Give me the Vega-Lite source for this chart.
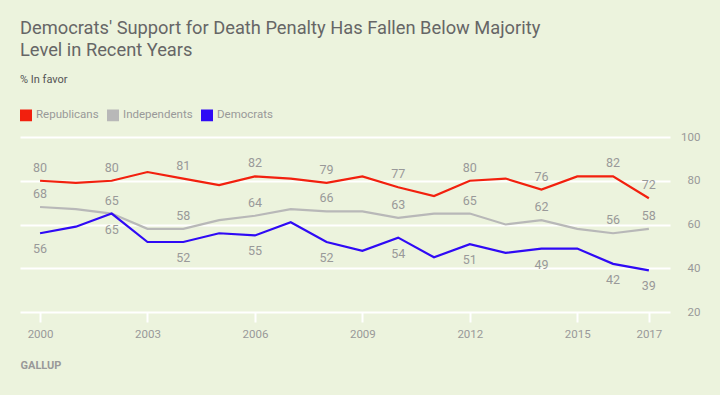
{
  "$schema": "https://vega.github.io/schema/vega-lite/v6.json",
  "width": 650,
  "height": 175,
  "autosize": {"type": "none"},
  "padding": {"left": 20, "top": 137, "right": 50, "bottom": 83},
  "background": "#ecf3dd",
  "config": {
    "view": {"stroke": null},
    "font": "Roboto",
    "legend": {"labelFont": "Roboto"},
    "axis": {"labelFont": "Roboto", "titleFont": "Roboto"}
  },
  "title": {
    "text": ["Democrats' Support for Death Penalty Has Fallen Below Majority", "Level in Recent Years"],
    "subtitle": "% In favor",
    "anchor": "start",
    "frame": "group",
    "font": "Roboto",
    "subtitleFont": "Roboto",
    "fontSize": 18.3,
    "fontWeight": "normal",
    "color": "#666666",
    "lineHeight": 22,
    "subtitleFontSize": 11,
    "subtitleColor": "#555555",
    "subtitlePadding": 14,
    "offset": 23
  },
  "data": {
    "values": [
      {"year": 2000, "party": "Republicans", "value": 80},
      {"year": 2001, "party": "Republicans", "value": 79},
      {"year": 2002, "party": "Republicans", "value": 80},
      {"year": 2003, "party": "Republicans", "value": 84},
      {"year": 2004, "party": "Republicans", "value": 81},
      {"year": 2005, "party": "Republicans", "value": 78},
      {"year": 2006, "party": "Republicans", "value": 82},
      {"year": 2007, "party": "Republicans", "value": 81},
      {"year": 2008, "party": "Republicans", "value": 79},
      {"year": 2009, "party": "Republicans", "value": 82},
      {"year": 2010, "party": "Republicans", "value": 77},
      {"year": 2011, "party": "Republicans", "value": 73},
      {"year": 2012, "party": "Republicans", "value": 80},
      {"year": 2013, "party": "Republicans", "value": 81},
      {"year": 2014, "party": "Republicans", "value": 76},
      {"year": 2015, "party": "Republicans", "value": 82},
      {"year": 2016, "party": "Republicans", "value": 82},
      {"year": 2017, "party": "Republicans", "value": 72},
      {"year": 2000, "party": "Independents", "value": 68},
      {"year": 2001, "party": "Independents", "value": 67},
      {"year": 2002, "party": "Independents", "value": 65},
      {"year": 2003, "party": "Independents", "value": 58},
      {"year": 2004, "party": "Independents", "value": 58},
      {"year": 2005, "party": "Independents", "value": 62},
      {"year": 2006, "party": "Independents", "value": 64},
      {"year": 2007, "party": "Independents", "value": 67},
      {"year": 2008, "party": "Independents", "value": 66},
      {"year": 2009, "party": "Independents", "value": 66},
      {"year": 2010, "party": "Independents", "value": 63},
      {"year": 2011, "party": "Independents", "value": 65},
      {"year": 2012, "party": "Independents", "value": 65},
      {"year": 2013, "party": "Independents", "value": 60},
      {"year": 2014, "party": "Independents", "value": 62},
      {"year": 2015, "party": "Independents", "value": 58},
      {"year": 2016, "party": "Independents", "value": 56},
      {"year": 2017, "party": "Independents", "value": 58},
      {"year": 2000, "party": "Democrats", "value": 56},
      {"year": 2001, "party": "Democrats", "value": 59},
      {"year": 2002, "party": "Democrats", "value": 65},
      {"year": 2003, "party": "Democrats", "value": 52},
      {"year": 2004, "party": "Democrats", "value": 52},
      {"year": 2005, "party": "Democrats", "value": 56},
      {"year": 2006, "party": "Democrats", "value": 55},
      {"year": 2007, "party": "Democrats", "value": 61},
      {"year": 2008, "party": "Democrats", "value": 52},
      {"year": 2009, "party": "Democrats", "value": 48},
      {"year": 2010, "party": "Democrats", "value": 54},
      {"year": 2011, "party": "Democrats", "value": 45},
      {"year": 2012, "party": "Democrats", "value": 51},
      {"year": 2013, "party": "Democrats", "value": 47},
      {"year": 2014, "party": "Democrats", "value": 49},
      {"year": 2015, "party": "Democrats", "value": 49},
      {"year": 2016, "party": "Democrats", "value": 42},
      {"year": 2017, "party": "Democrats", "value": 39}
    ]
  },
  "encoding": {
    "x": {
      "field": "year",
      "type": "quantitative",
      "scale": {"domain": [1999.44, 2017.59], "nice": false, "zero": false},
      "axis": {
        "values": [2000, 2003, 2006, 2009, 2012, 2015, 2017],
        "format": "d",
        "grid": false,
        "domain": false,
        "ticks": true,
        "tickColor": "#ffffff",
        "tickWidth": 2,
        "tickSize": 10,
        "labelColor": "#999999",
        "labelFontSize": 11.5,
        "labelPadding": 6,
        "title": "GALLUP",
        "titleAnchor": "start",
        "titleAlign": "left",
        "titleColor": "#999999",
        "titleFontSize": 11,
        "titleFontWeight": "bold",
        "titlePadding": 20
      }
    },
    "y": {
      "field": "value",
      "type": "quantitative",
      "scale": {"domain": [20, 100], "nice": false, "zero": false},
      "axis": {
        "orient": "right",
        "values": [20, 40, 60, 80, 100],
        "grid": true,
        "gridColor": "#ffffff",
        "gridWidth": 2,
        "gridOpacity": 1,
        "domain": false,
        "ticks": false,
        "labelAlign": "right",
        "labelPadding": 30,
        "labelColor": "#999999",
        "labelFontSize": 11.5,
        "title": null
      }
    },
    "color": {
      "field": "party",
      "type": "nominal",
      "scale": {
        "domain": ["Republicans", "Independents", "Democrats"],
        "range": ["#f2200e", "#b8b8b8", "#2f0af5"]
      },
      "legend": {
        "orient": "top",
        "direction": "horizontal",
        "title": null,
        "symbolType": "square",
        "symbolSize": 110,
        "symbolOpacity": 1,
        "labelColor": "#999999",
        "labelFontSize": 11.5,
        "columnPadding": 5,
        "offset": 13,
        "encode": {
          "symbols": {
            "update": {
              "fill": {"scale": "color", "field": "value"},
              "stroke": {"value": "transparent"}
            }
          }
        }
      }
    }
  },
  "layer": [
    {
      "mark": {"type": "line", "strokeWidth": 2.2}
    },
    {
      "transform": [
        {"filter": {"field": "year", "oneOf": [2000, 2002, 2004, 2006, 2008, 2010, 2012, 2014, 2016, 2017]}},
        {"filter": {"field": "party", "oneOf": ["Republicans", "Independents"]}}
      ],
      "mark": {"type": "text", "dy": -13, "fontSize": 12.5, "color": "#999999"},
      "encoding": {
        "text": {"field": "value", "type": "quantitative"},
        "color": {"value": "#999999"}
      }
    },
    {
      "transform": [
        {"filter": {"field": "year", "oneOf": [2000, 2002, 2004, 2006, 2008, 2010, 2012, 2014, 2016, 2017]}},
        {"filter": {"field": "party", "equal": "Democrats"}}
      ],
      "mark": {"type": "text", "dy": 16, "fontSize": 12.5, "color": "#999999"},
      "encoding": {
        "text": {"field": "value", "type": "quantitative"},
        "color": {"value": "#999999"}
      }
    }
  ]
}
